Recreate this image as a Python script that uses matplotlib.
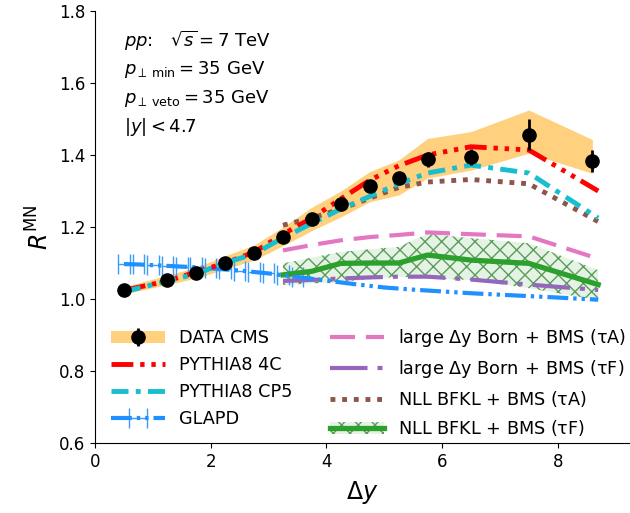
import matplotlib
matplotlib.use("Agg")
import matplotlib.pyplot as plt
import numpy as np

# CMS Mueller-Navelet ratio data
dy_data = [0.5, 1.25, 1.75, 2.25, 2.75, 3.25, 3.75, 4.25, 4.75, 5.25, 5.75, 6.5, 7.5, 8.6]
r_data = [1.024, 1.053, 1.073, 1.101, 1.129, 1.173, 1.222, 1.264, 1.313, 1.335, 1.388, 1.394, 1.456, 1.384]
r_err = [0.005, 0.006, 0.007, 0.008, 0.009, 0.010, 0.011, 0.012, 0.014, 0.016, 0.020, 0.022, 0.043, 0.031]
band_lo = [1.014, 1.040, 1.058, 1.083, 1.108, 1.148, 1.190, 1.228, 1.270, 1.289, 1.336, 1.358, 1.405, 1.349]
band_hi = [1.034, 1.066, 1.088, 1.120, 1.150, 1.200, 1.255, 1.300, 1.354, 1.386, 1.446, 1.465, 1.525, 1.443]

# PYTHIA8 predictions
dy_mc = [0.5, 1.25, 1.75, 2.25, 2.75, 3.25, 3.75, 4.25, 4.75, 5.25, 5.75, 6.5, 7.5, 8.7]
r_4c = [1.024, 1.050, 1.075, 1.100, 1.130, 1.180, 1.225, 1.278, 1.330, 1.370, 1.400, 1.423, 1.414, 1.300]
r_cp5 = [1.020, 1.050, 1.070, 1.100, 1.125, 1.170, 1.210, 1.250, 1.285, 1.320, 1.350, 1.372, 1.350, 1.225]

# GLAPD
dy_glapd = [0.5, 0.75, 1.0, 1.25, 1.5, 1.75, 2.0, 2.25, 2.5, 2.75, 3.0, 3.25, 3.5,
            4.0, 4.5, 5.0, 5.5, 6.0, 6.5, 7.0, 7.5, 8.0, 8.7]
r_glapd = [1.097, 1.096, 1.094, 1.092, 1.090, 1.088, 1.085, 1.082, 1.079, 1.075, 1.071, 1.066, 1.061,
           1.051, 1.041, 1.032, 1.026, 1.021, 1.016, 1.012, 1.008, 1.004, 0.998]
glapd_xerr = 0.1
n_glapd_bins = 13

# BFKL-type predictions
dy_th = [3.25, 3.75, 4.25, 4.75, 5.25, 5.75, 6.5, 7.5, 8.7]
r_born_ta = [1.135, 1.150, 1.163, 1.172, 1.178, 1.185, 1.180, 1.174, 1.112]
r_born_tf = [1.050, 1.053, 1.057, 1.060, 1.062, 1.062, 1.054, 1.040, 1.025]
r_nll_ta = [1.205, 1.225, 1.250, 1.280, 1.310, 1.325, 1.332, 1.320, 1.215]
r_nll_tf = [1.067, 1.077, 1.099, 1.100, 1.100, 1.122, 1.108, 1.099, 1.040]
nll_tf_lo = [1.039, 1.043, 1.048, 1.055, 1.062, 1.057, 1.053, 1.030, 0.997]
nll_tf_hi = [1.099, 1.115, 1.131, 1.138, 1.145, 1.181, 1.169, 1.155, 1.080]

plt.rcParams["font.family"] = ["DejaVu Sans"]
plt.rcParams["mathtext.fontset"] = "dejavusans"

fig = plt.figure(figsize=(6.30, 5.13), dpi=100)
ax = fig.add_axes([0.1508, 0.1365, 0.8492, 0.842])

band = ax.fill_between(dy_data, band_lo, band_hi, color="orange", alpha=0.5, lw=0, zorder=1)

ln_4c, = ax.plot(dy_mc, r_4c, color="red", lw=3.5,
                 dashes=(4.5, 1.4, 0.9, 1.4, 0.9, 1.4, 0.9, 1.4), zorder=4)
ln_cp5, = ax.plot(dy_mc, r_cp5, color="#17becf", lw=3.5,
                  dashes=(3.5, 1.5, 1.0, 1.5), zorder=4)

glapd = ax.errorbar(dy_glapd, r_glapd,
                    xerr=[glapd_xerr] * len(dy_glapd),
                    errorevery=slice(0, n_glapd_bins),
                    color="#1e90ff", lw=3, dashes=(5.0, 1.2, 0.8, 1.2, 0.8, 1.2),
                    ecolor="#3d9cfa", elinewidth=1.0, capsize=7, capthick=1.0, zorder=3)

nll_band = ax.fill_between(dy_th, nll_tf_lo, nll_tf_hi, facecolor=(0.17, 0.63, 0.17, 0.12),
                           edgecolor=(0.17, 0.5, 0.17, 0.75), hatch="xx", lw=0, zorder=2)
ln_born_ta, = ax.plot(dy_th, r_born_ta, color="#e377c2", lw=3, dashes=(6.0, 2.6), zorder=3)
ln_born_tf, = ax.plot(dy_th, r_born_tf, color="#9467bd", lw=3, dashes=(9.0, 2.4, 1.2, 2.4), zorder=3)
ln_nll_ta, = ax.plot(dy_th, r_nll_ta, color="#8c564b", lw=3.5, dashes=(1.0, 1.4), zorder=3)
ln_nll_tf, = ax.plot(dy_th, r_nll_tf, color="#2ca02c", lw=3.8, zorder=3)

data = ax.errorbar(dy_data, r_data, yerr=r_err, fmt="o", color="black", ms=9.5,
                   elinewidth=2, capsize=0, zorder=6)

ax.set_xlim(0, 9.25)
ax.set_ylim(0.6, 1.8)
ax.set_xticks([0, 2, 4, 6, 8])
ax.set_yticks([0.6, 0.8, 1.0, 1.2, 1.4, 1.6, 1.8])
ax.set_yticklabels(["0.6", "0.8", "1.0", "1.2", "1.4", "1.6", "1.8"])
ax.tick_params(labelsize=12)
ax.spines["top"].set_visible(False)
ax.spines["right"].set_visible(False)
ax.set_xlabel(r"$\Delta y$", fontsize=17, labelpad=6)
ax.set_ylabel(r"$R^{\mathrm{MN}}$", fontsize=17)

info = [r"$pp$:   $\sqrt{s} = 7$ TeV",
        r"$p_{\perp\,\mathrm{min}} = 35$ GeV",
        r"$p_{\perp\,\mathrm{veto}} = 35$ GeV",
        r"$|y| < 4.7$"]
for i, s in enumerate(info):
    ax.text(0.055, 0.93 - i * 0.066, s, transform=ax.transAxes, fontsize=13, va="center")

handles = [(band, data), ln_4c, ln_cp5, glapd,
           ln_born_ta, ln_born_tf, ln_nll_ta, (nll_band, ln_nll_tf)]
labels = ["DATA CMS", "PYTHIA8 4C", "PYTHIA8 CP5", "GLAPD",
          r"large $\Delta$y Born$\,+\,$BMS ($\mathrm{\tau}$A)",
          r"large $\Delta$y Born$\,+\,$BMS ($\mathrm{\tau}$F)",
          r"NLL BFKL $+$ BMS ($\mathrm{\tau}$A)",
          r"NLL BFKL $+$ BMS ($\mathrm{\tau}$F)"]
ax.legend(handles, labels, ncol=2, frameon=False, fontsize=12.7, loc="lower left",
          bbox_to_anchor=(0.0, -0.025), handlelength=3.05, handletextpad=0.8,
          columnspacing=2.15, labelspacing=0.5)

fig.savefig("out.png", dpi=100)
